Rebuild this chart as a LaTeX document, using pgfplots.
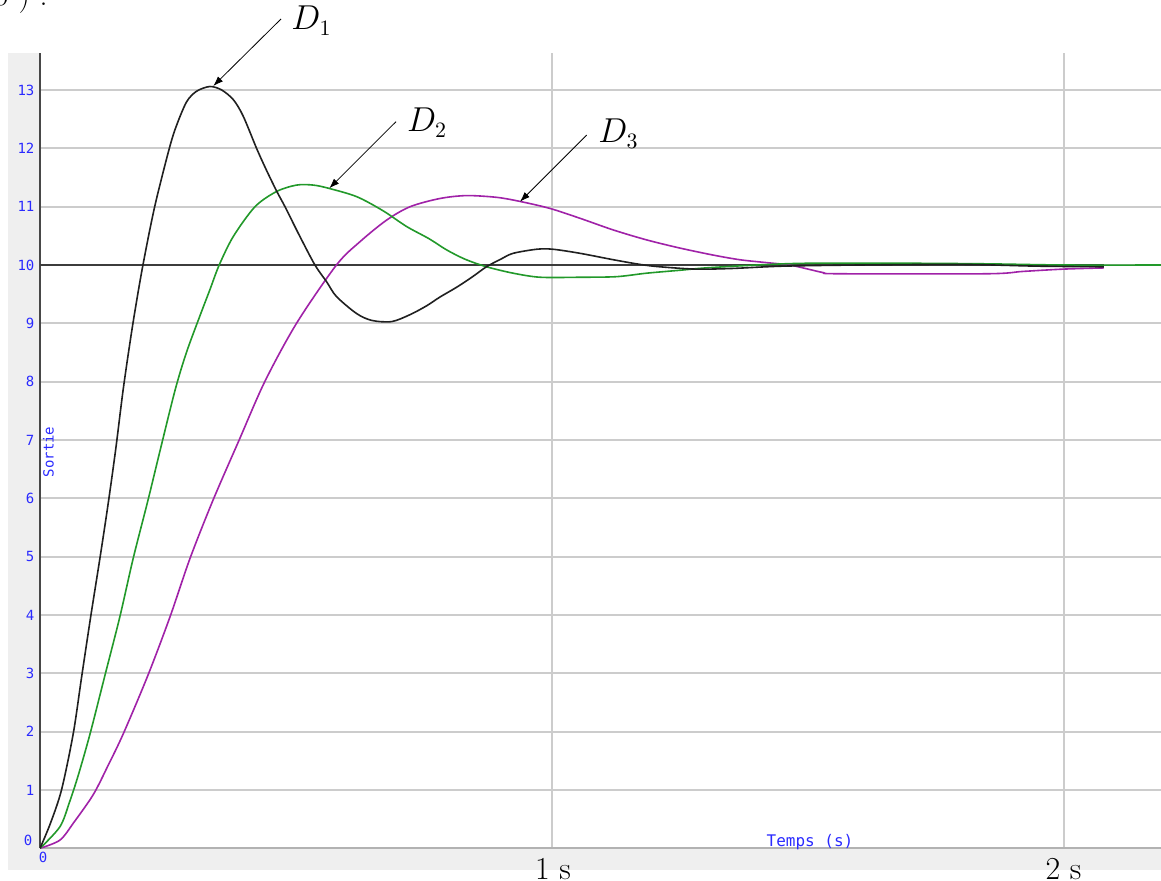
\documentclass[border=0pt]{standalone}
\usepackage{fontspec}
\usepackage{pgfplots}
\pgfplotsset{compat=1.18}
\usetikzlibrary{arrows.meta}
\newfontfamily\pixfont{DejaVu Sans Mono}
\definecolor{bgray}{HTML}{EFEFEF}
\definecolor{gridc}{HTML}{CCCCCC}
\definecolor{lblue}{HTML}{2A2AFF}
\definecolor{cA}{HTML}{202020}
\definecolor{cB}{HTML}{22992A}
\definecolor{cC}{HTML}{A022A8}
\definecolor{setp}{HTML}{3C3C3C}

\pgfplotstableread{
t v
0 0
0.02 0.42
0.042 1.0
0.065 1.97
0.081 2.92
0.099 3.97
0.117 4.97
0.133 5.9
0.148 6.85
0.163 7.9
0.181 8.97
0.2 9.95
0.224 11.0
0.2526 12.0
0.267 12.4
0.2865 12.8
0.306 12.98
0.332 13.06
0.355 13.0
0.378 12.83
0.397 12.55
0.423 12.0
0.441 11.65
0.462 11.27
0.4785 11.0
0.507 10.5
0.537 10.0
0.56 9.71
0.579 9.46
0.618 9.17
0.648 9.05
0.687 9.03
0.723 9.15
0.755 9.3
0.781 9.45
0.814 9.62
0.845 9.8
0.872 9.97
0.9 10.1
0.924 10.2
0.97 10.27
1.002 10.27
1.055 10.2
1.12 10.09
1.172 10.01
1.21 9.97
1.28 9.93
1.35 9.94
1.45 9.98
1.6 10.0
1.8 10.01
1.95 9.98
2.078 9.97
}\dataA

\pgfplotstableread{
t v
0 0
0.039 0.37
0.058 0.8
0.075 1.26
0.098 1.97
0.127 2.97
0.156 3.97
0.182 4.97
0.211 5.97
0.234 6.8
0.264 7.86
0.286 8.5
0.312 9.12
0.332 9.58
0.350 10.0
0.3776 10.49
0.420 11.0
0.462 11.26
0.501 11.37
0.534 11.37
0.566 11.31
0.619 11.17
0.67 10.93
0.716 10.66
0.76 10.45
0.794 10.26
0.83 10.1
0.872 9.97
0.924 9.86
0.977 9.79
1.055 9.79
1.126 9.8
1.185 9.86
1.25 9.91
1.3 9.95
1.4 10.0
1.5 10.03
1.7 10.03
1.85 10.02
2.0 10.0
2.19 10.0
}\dataB

\pgfplotstableread{
t v
0 0
0.039 0.14
0.065 0.43
0.104 0.92
0.133 1.42
0.163 1.97
0.211 2.97
0.254 3.97
0.293 4.97
0.338 5.97
0.389 7.0
0.439 8.0
0.501 9.0
0.579 10.0
0.625 10.4
0.677 10.77
0.723 11.0
0.781 11.14
0.833 11.19
0.892 11.16
0.9375 11.09
0.996 10.97
1.055 10.8
1.12 10.6
1.185 10.43
1.25 10.29
1.315 10.17
1.367 10.09
1.42 10.04
1.464 10.0
1.5 9.93
1.53 9.87
1.56 9.85
1.85 9.85
1.92 9.89
2.0 9.93
2.078 9.95
}\dataC

\begin{document}
\begin{tikzpicture}
\useasboundingbox (0,0) rectangle (580.5pt,440.5pt);
\fill[bgray] (4pt,5.5pt) rectangle (580.5pt,414pt);
\begin{axis}[
  at={(20pt,16.35pt)}, anchor=south west,
  scale only axis, width=560.5pt, height=397.65pt,
  xmin=0, xmax=2.1895, ymin=0, ymax=13.635,
  axis background/.style={fill=white},
  axis x line*=bottom, axis y line*=left,
  x axis line style={draw=black!30, line width=1pt},
  y axis line style={draw=black!72, line width=1.2pt},
  xtick={1,2}, xticklabels={,,},
  ytick={1,2,3,4,5,6,7,8,9,10,11,12,13},
  yticklabels={1,2,3,4,5,6,7,8,9,10,11,12,13},
  grid=major, grid style={gridc, line width=0.9pt},
  major tick length=0pt, tick style={draw=none},
  yticklabel style={font=\pixfont\fontsize{7}{8}\selectfont, text=lblue, inner sep=0pt, xshift=-2.6pt},
]
\addplot[setp, line width=1pt] coordinates {(0,10) (2.078,10)};
\addplot[cC, line width=0.8pt, smooth, tension=0.5] table[x=t,y=v] {\dataC};
\addplot[cB, line width=0.8pt, smooth, tension=0.5] table[x=t,y=v] {\dataB};
\addplot[cA, line width=0.8pt, smooth, tension=0.5] table[x=t,y=v] {\dataA};
\end{axis}
% small blue labels
\node[font=\pixfont\fontsize{7}{8}\selectfont, text=lblue, inner sep=0pt] at (14pt,20.5pt) {0};
\node[font=\pixfont\fontsize{7}{8}\selectfont, text=lblue, inner sep=0pt] at (21.5pt,12pt) {0};
\node[font=\pixfont\fontsize{8}{9}\selectfont, text=lblue, inner sep=0pt] at (405pt,19.5pt) {Temps (s)};
\node[font=\pixfont\fontsize{7}{8}\selectfont, text=lblue, inner sep=0pt, rotate=90] at (24.2pt,214.5pt) {Sortie};
% annotations
\draw[-{Latex[length=5pt,width=3.5pt]}, line width=0.4pt] (140.5pt,431pt) -- (106.65pt,397.5pt);
\draw[-{Latex[length=5pt,width=3.5pt]}, line width=0.4pt] (198pt,379.65pt) -- (164.65pt,346.35pt);
\draw[-{Latex[length=5pt,width=3.5pt]}, line width=0.4pt] (293.35pt,373pt) -- (260pt,339.65pt);
\node[anchor=base west, inner sep=0pt, font=\fontsize{16}{19}\selectfont] at (145.5pt,425.5pt) {$D_1$};
\node[anchor=base west, inner sep=0pt, font=\fontsize{16}{19}\selectfont] at (203.35pt,374.5pt) {$D_2$};
\node[anchor=base west, inner sep=0pt, font=\fontsize{16}{19}\selectfont] at (299pt,369pt) {$D_3$};
\node[anchor=base, inner sep=0pt, font=\fontsize{16}{19}\selectfont] at (276.5pt,0.8pt) {1 s};
\node[anchor=base, inner sep=0pt, font=\fontsize{16}{19}\selectfont] at (531.75pt,0.8pt) {2 s};
\node[anchor=base east, inner sep=0pt, font=\fontsize{16}{19}\selectfont] at (24pt,437.5pt) {$0$ )~.};
\end{tikzpicture}
\end{document}
